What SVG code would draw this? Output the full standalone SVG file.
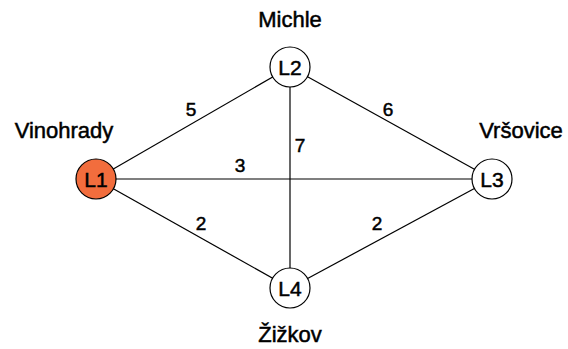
<svg xmlns="http://www.w3.org/2000/svg" width="568" height="349" viewBox="0 0 568 349">
<style>
.edge{stroke:#000;stroke-width:1.2;fill:none}
.node{stroke:#000;stroke-width:1.2;fill:#fff}
.hl{fill:#F26D3D}
text{font-family:"Liberation Sans",Arial,sans-serif;fill:#000;stroke:#000;stroke-width:0.5;text-anchor:middle}
.nl{font-size:21px}
.el{font-size:19px}
.pl{font-size:22px}
</style>
<rect width="568" height="349" fill="#fff"/>
<g id="connectors">
<line class="edge" x1="96" y1="179" x2="290" y2="67"/>
<line class="edge" x1="96" y1="179" x2="492" y2="179"/>
<line class="edge" x1="96" y1="179" x2="290" y2="288"/>
<line class="edge" x1="290" y1="67" x2="290" y2="288"/>
<line class="edge" x1="290" y1="67" x2="492" y2="179"/>
<line class="edge" x1="290" y1="288" x2="492" y2="179"/>
<text class="el" x="191" y="116">5</text>
<text class="el" x="388" y="116">6</text>
<text class="el" x="300" y="152">7</text>
<text class="el" x="240" y="172">3</text>
<text class="el" x="201" y="230">2</text>
<text class="el" x="377" y="230">2</text>
</g>
<g id="L1">
<circle class="node hl" cx="96" cy="179" r="20"/>
<text class="nl" x="96" y="187">L1</text>
<text class="pl" x="64" y="138">Vinohrady</text>
</g>
<g id="L2">
<circle class="node" cx="290" cy="67" r="20"/>
<text class="nl" x="290" y="75">L2</text>
<text class="pl" x="290" y="27">Michle</text>
</g>
<g id="L3">
<circle class="node" cx="492" cy="179" r="20"/>
<text class="nl" x="492" y="187">L3</text>
<text class="pl" x="521" y="138">Vršovice</text>
</g>
<g id="L4">
<circle class="node" cx="290" cy="288" r="20"/>
<text class="nl" x="290" y="296">L4</text>
<text class="pl" x="290" y="342">Žižkov</text>
</g>
</svg>
